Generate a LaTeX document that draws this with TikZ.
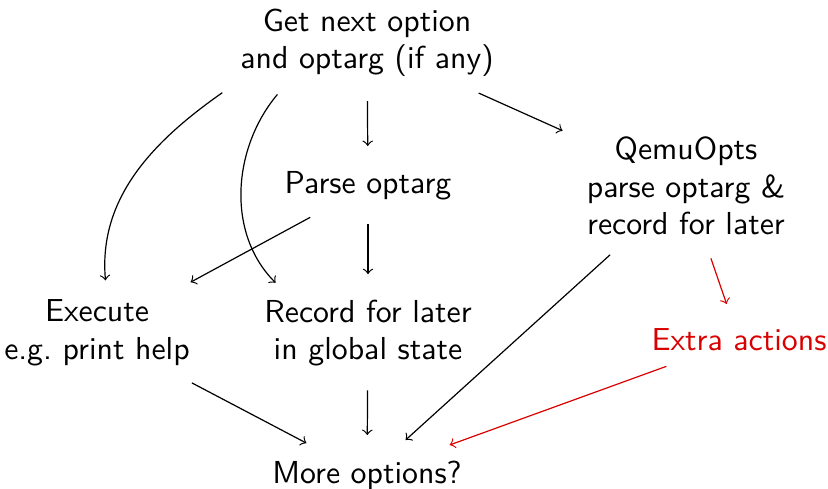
\documentclass[tikz,border=0pt]{standalone}
\usepackage{tikz}
\begin{document}
\begin{tikzpicture}[x=0.3333pt,y=0.3333pt,
  font=\sffamily\fontsize{10.6pt}{12.5pt}\selectfont,
  box/.style={align=center, inner sep=3.333pt},
  flow/.style={->, shorten <=4.5pt, shorten >=5pt},
  extraflow/.style={flow, draw=red!85!black}]
\useasboundingbox (0,0) rectangle (828,489);
\node[box] (get) at (367,446) {Get next option\\and optarg (if any)};
\node[box] (parse) at (368,303) {Parse optarg};
\node[box] (qemu) at (686,303) {QemuOpts\\parse optarg \&\\record for later};
\node[box] (exec) at (97,156) {Execute\\e.g.\ print help};
\node[box] (rec) at (368,156) {Record for later\\in global state};
\node[box, text=red!85!black] (xtra) at (739,149) {Extra actions};
\node[box] (more) at (367,14) {More options?};

\draw[flow] (get) -- (parse);
\draw[flow] (parse) -- (rec);
\draw[flow] (rec) -- (more);
\draw[flow] (get) -- (qemu);
\draw[flow] (parse) -- (exec);
\draw[flow] (qemu) -- (more);
\draw[flow] (exec) -- (more);
\draw[extraflow] (qemu) -- (xtra);
\draw[extraflow] (xtra) -- (more);
% the two bent connectors leave the top box from its lower left part
\draw[flow, shorten <=3pt, shorten >=3pt] (get.south west) to[out=215, in=95] (exec.78);
\draw[flow, shorten <=3pt, shorten >=3pt] (get.208) to[out=230, in=135] (rec.153);
\end{tikzpicture}
\end{document}
